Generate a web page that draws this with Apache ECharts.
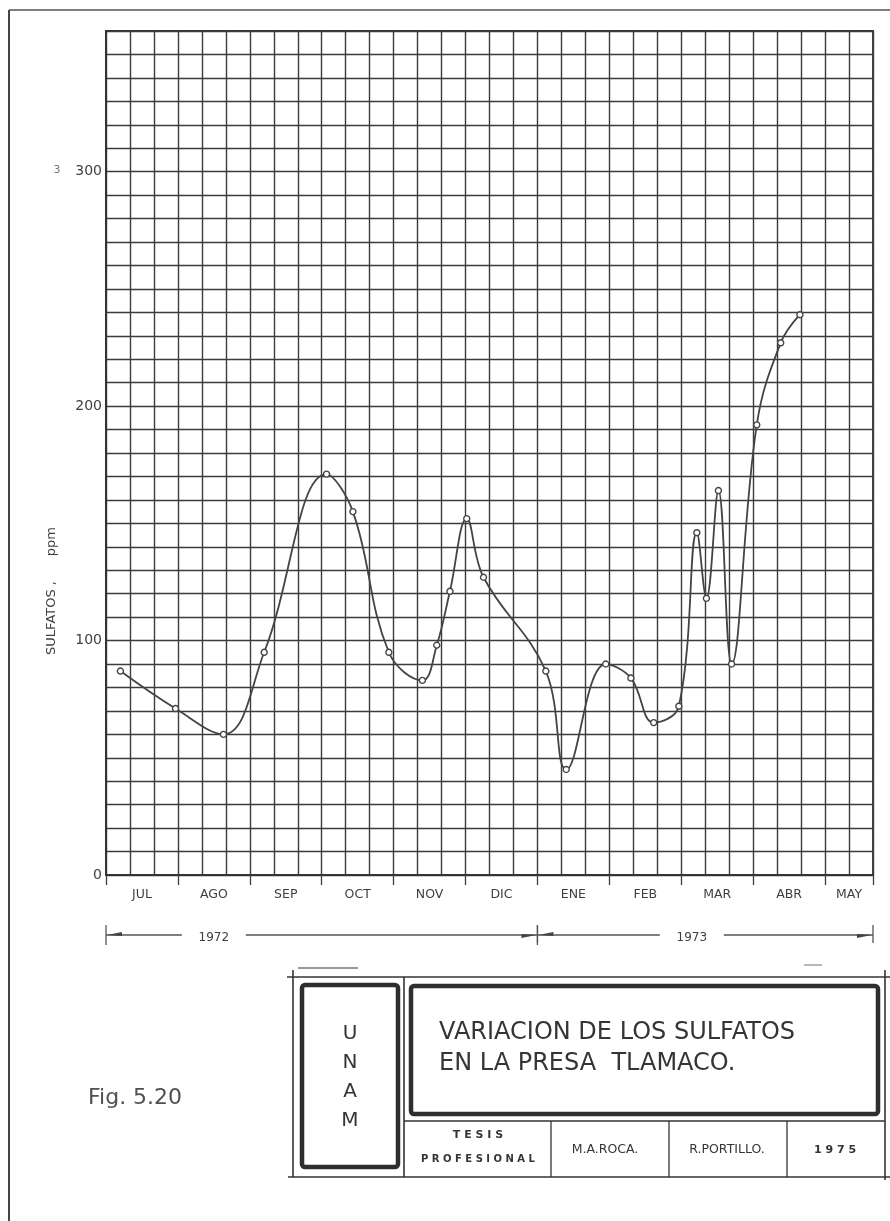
<!DOCTYPE html>
<html>
<head>
<meta charset="utf-8">
<title>Variación de los sulfatos en la presa Tlamaco</title>
<script src="https://cdn.jsdelivr.net/npm/echarts@6/dist/echarts.min.js"></script>
<style>
  html, body { margin: 0; padding: 0; background: #ffffff; }
  #chart { width: 890px; height: 1221px; }
</style>
</head>
<body>
<div id="chart"></div>
<script>
// Sampling dates, in days counted from 1 July 1972 (30-day months on the chart)
const sampleDays = [6, 29, 49, 66, 92, 103, 118, 132, 138, 143.5, 150.5, 157.5,
  183.5, 192, 208.5, 219, 228.5, 239, 246.5, 250.5, 255.5, 261, 271.5, 281.5, 289.5];
// Sulfate concentration, ppm
const sulfatePpm = [87, 71, 60, 95, 171, 155, 95, 83, 98, 121, 152, 127,
  87, 45, 90, 84, 65, 72, 146, 118, 164, 90, 192, 227, 239];
// Month labels, July 1972 to May 1973, and the axis day each one is centred on
const months = ['JUL', 'AGO', 'SEP', 'OCT', 'NOV', 'DIC', 'ENE', 'FEB', 'MAR', 'ABR', 'MAY'];
const monthLabelDays = [15, 45, 75, 105, 135, 165, 195, 225, 255, 285, 310];
// Labelled values on the concentration axis
const yTickLabels = [0, 100, 200, 300];
// Year spans in axis days
const years = [{ label: '1972', from: 0, to: 180, at: 0.25 }, { label: '1973', from: 180, to: 320, at: 0.46 }];

const INK = '#3c3c3c';
const TEXT = '#3f3f3f';
const FONT = '"DejaVu Sans", sans-serif';

const points = sampleDays.map((d, i) => [d, sulfatePpm[i]]);

const chart = echarts.init(document.getElementById('chart'), null, { renderer: 'canvas' });

const option = {
  backgroundColor: '#ffffff',
  animation: false,
  grid: {
    left: 106, right: 17, top: 31, bottom: 346,
    show: true, borderColor: '#333333', borderWidth: 1.8
  },
  xAxis: [
    {
      // grid of 10-day cells
      type: 'value', min: 0, max: 320, interval: 10,
      axisLine: { show: true, lineStyle: { color: '#333333', width: 1.8 } },
      axisTick: { show: false },
      axisLabel: { show: false },
      splitLine: { show: true, lineStyle: { color: INK, width: 1.4 } }
    },
    {
      // month boundary ticks
      type: 'value', min: 0, max: 320, interval: 30, position: 'bottom',
      axisLine: { show: false },
      axisTick: { show: true, length: 10, lineStyle: { color: INK, width: 1.3 } },
      axisLabel: { show: false },
      splitLine: { show: false }
    },
    {
      // month names centred in each month
      type: 'value', min: 0, max: 320, interval: 5, position: 'bottom',
      axisLine: { show: false },
      axisTick: { show: false },
      splitLine: { show: false },
      axisLabel: {
        show: true, margin: 13, color: TEXT, fontFamily: FONT, fontSize: 12.5,
        formatter: v => {
          const i = monthLabelDays.indexOf(v);
          return i >= 0 ? months[i] : '';
        }
      }
    }
  ],
  yAxis: {
    type: 'value', min: 0, max: 360, interval: 10,
    axisLine: { show: true, lineStyle: { color: '#333333', width: 1.8 } },
    axisTick: { show: false },
    axisLabel: {
      show: true, margin: 4, color: TEXT, fontFamily: FONT, fontSize: 14,
      formatter: v => (yTickLabels.indexOf(v) >= 0 ? String(v) : '')
    },
    splitLine: { show: true, lineStyle: { color: INK, width: 1.4 } }
  },
  series: [{
    type: 'line',
    xAxisIndex: 0,
    data: points,
    smooth: 0.4,
    symbol: 'circle',
    symbolSize: 6,
    lineStyle: { color: '#444444', width: 1.8 },
    itemStyle: { color: '#ffffff', borderColor: '#444444', borderWidth: 1.4 },
    z: 5
  }]
};

chart.setOption(option);

// Decorations: page frame, axis title, year spans, title block
function px(day) { return chart.convertToPixel({ xAxisIndex: 0 }, day); }

const g = [];

// page frame
g.push({ type: 'line', shape: { x1: 9, y1: 10, x2: 890, y2: 10 }, style: { stroke: '#555', lineWidth: 1.6 } });
g.push({ type: 'line', shape: { x1: 9, y1: 10, x2: 9, y2: 1221 }, style: { stroke: '#444', lineWidth: 2 } });

// axis title
g.push({
  type: 'text', x: 52, y: 591, rotation: Math.PI / 2,
  style: { text: 'SULFATOS ,      ppm', fill: TEXT, font: '13px ' + FONT, align: 'center', verticalAlign: 'middle' }
});
g.push({ type: 'text', x: 57, y: 170, style: { text: '3', fill: '#777', font: '11px ' + FONT, align: 'center', verticalAlign: 'middle' } });

// year spans with arrows
const yy = 935;
years.forEach(span => {
  const x1 = px(span.from), x2 = px(span.to);
  const xm = x1 + span.at * (x2 - x1);
  const half = 32;
  g.push({ type: 'line', shape: { x1: x1, y1: yy, x2: xm - half, y2: yy }, style: { stroke: '#555', lineWidth: 1.3 } });
  g.push({ type: 'line', shape: { x1: xm + half, y1: yy, x2: x2, y2: yy }, style: { stroke: '#555', lineWidth: 1.3 } });
  g.push({ type: 'text', x: xm, y: yy + 3, style: { text: span.label, fill: TEXT, font: '12px ' + FONT, align: 'center', verticalAlign: 'middle' } });
  g.push({ type: 'line', shape: { x1: x1, y1: yy - 10, x2: x1, y2: yy + 10 }, style: { stroke: '#555', lineWidth: 1.3 } });
  g.push({ type: 'line', shape: { x1: x2, y1: yy - 10, x2: x2, y2: yy + 8 }, style: { stroke: '#555', lineWidth: 1.3 } });
  g.push({ type: 'polygon', shape: { points: [[x1 + 1, yy], [x1 + 16, yy - 3], [x1 + 16, yy + 1]] }, style: { fill: '#444' } });
  g.push({ type: 'polygon', shape: { points: [[x2 - 1, yy], [x2 - 16, yy - 1], [x2 - 16, yy + 3]] }, style: { fill: '#444' } });
});

// title block
const B = '#333333';
g.push({ type: 'line', shape: { x1: 287, y1: 977, x2: 890, y2: 977 }, style: { stroke: B, lineWidth: 1.6 } });
g.push({ type: 'line', shape: { x1: 293, y1: 970, x2: 293, y2: 1177 }, style: { stroke: B, lineWidth: 1.6 } });
g.push({ type: 'line', shape: { x1: 885, y1: 970, x2: 885, y2: 1180 }, style: { stroke: B, lineWidth: 1.6 } });
g.push({ type: 'line', shape: { x1: 288, y1: 1177, x2: 890, y2: 1177 }, style: { stroke: B, lineWidth: 1.6 } });
g.push({ type: 'line', shape: { x1: 404, y1: 977, x2: 404, y2: 1177 }, style: { stroke: B, lineWidth: 1.6 } });
g.push({ type: 'line', shape: { x1: 404, y1: 1121, x2: 885, y2: 1121 }, style: { stroke: B, lineWidth: 1.6 } });
[551, 669, 787].forEach(x => g.push({ type: 'line', shape: { x1: x, y1: 1121, x2: x, y2: 1177 }, style: { stroke: B, lineWidth: 1.3 } }));
g.push({ type: 'line', shape: { x1: 298, y1: 968, x2: 358, y2: 968 }, style: { stroke: '#777', lineWidth: 1.5 } });
g.push({ type: 'line', shape: { x1: 804, y1: 965, x2: 822, y2: 965 }, style: { stroke: '#888', lineWidth: 1.2 } });

g.push({ type: 'rect', shape: { x: 302, y: 985, width: 96, height: 182, r: 3 }, style: { fill: 'none', stroke: '#2e2e2e', lineWidth: 4.5 } });
g.push({ type: 'rect', shape: { x: 411, y: 986, width: 467, height: 128, r: 3 }, style: { fill: 'none', stroke: '#2e2e2e', lineWidth: 4.5 } });

['U', 'N', 'A', 'M'].forEach((ch, i) => g.push({
  type: 'text', x: 350, y: 1034 + i * 29,
  style: { text: ch, fill: '#353535', font: '20px ' + FONT, align: 'center', verticalAlign: 'middle' }
}));

g.push({ type: 'text', x: 439, y: 1033, style: { text: 'VARIACION DE LOS SULFATOS', fill: '#353535', font: '24px ' + FONT, align: 'left', verticalAlign: 'middle' } });
g.push({ type: 'text', x: 439, y: 1064, style: { text: 'EN LA PRESA  TLAMACO.', fill: '#353535', font: '24px ' + FONT, align: 'left', verticalAlign: 'middle' } });

g.push({ type: 'text', x: 478, y: 1135, style: { text: 'T E S I S', fill: '#353535', font: 'bold 11px ' + FONT, align: 'center', verticalAlign: 'middle' } });
g.push({ type: 'text', x: 478, y: 1159, style: { text: 'P R O F E S I O N A L', fill: '#353535', font: 'bold 10px ' + FONT, align: 'center', verticalAlign: 'middle' } });
g.push({ type: 'text', x: 605, y: 1150, style: { text: 'M.A.ROCA.', fill: '#353535', font: '12.5px ' + FONT, align: 'center', verticalAlign: 'middle' } });
g.push({ type: 'text', x: 727, y: 1150, style: { text: 'R.PORTILLO.', fill: '#353535', font: '12.5px ' + FONT, align: 'center', verticalAlign: 'middle' } });
g.push({ type: 'text', x: 835, y: 1150, style: { text: '1 9 7 5', fill: '#353535', font: 'bold 11px ' + FONT, align: 'center', verticalAlign: 'middle' } });

g.push({ type: 'text', x: 88, y: 1098, style: { text: 'Fig. 5.20', fill: '#505050', font: '22px ' + FONT, align: 'left', verticalAlign: 'middle' } });

chart.setOption({ graphic: g });
</script>
</body>
</html>
